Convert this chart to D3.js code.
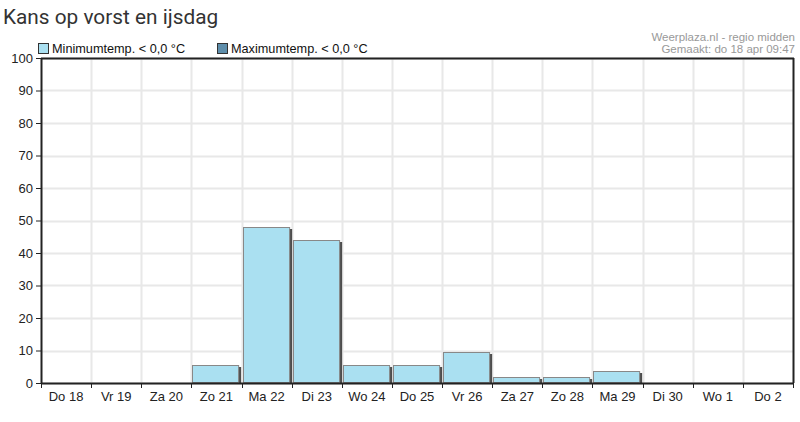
<!DOCTYPE html>
<html>
<head>
<meta charset="utf-8">
<script src="https://cdn.jsdelivr.net/npm/d3@7"></script>
<style>
  body { margin: 0; background: #fff; }
  svg { display: block; }
</style>
</head>
<body>
<svg id="chart"></svg>
<script>
// data
const days = ['Do 18', 'Vr 19', 'Za 20', 'Zo 21', 'Ma 22', 'Di 23', 'Wo 24', 'Do 25',
              'Vr 26', 'Za 27', 'Zo 28', 'Ma 29', 'Di 30', 'Wo 1', 'Do 2'];
const minTempChance = [0, 0, 0, 5.5, 48, 44, 5.5, 5.5, 9.5, 1.7, 1.7, 3.7, 0, 0, 0];
const maxTempChance = [0, 0, 0, 0, 0, 0, 0, 0, 0, 0, 0, 0, 0, 0, 0];
const yTicks = [0, 10, 20, 30, 40, 50, 60, 70, 80, 90, 100];
const legendLabels = ['Minimumtemp. < 0,0 °C', 'Maximumtemp. < 0,0 °C'];
const legendColors = ['#aae0f1', '#5e8eab'];

const width = 800, height = 422;
const margin = { top: 58, right: 7, bottom: 39, left: 41 };
const innerW = width - margin.left - margin.right;
const innerH = height - margin.top - margin.bottom;

const svg = d3.select('#chart').attr('width', width).attr('height', height)
    .style('font-family', '"Liberation Sans", Arial, sans-serif');

// title
svg.append('text')
    .attr('x', 3).attr('y', 24)
    .attr('fill', '#333')
    .style('font-family', 'Roboto, sans-serif')
    .style('font-size', '20.8px')
    .text('Kans op vorst en ijsdag');

// source text
const src = svg.append('text')
    .attr('text-anchor', 'end')
    .attr('fill', '#999')
    .style('font-size', '11.5px');
src.append('tspan').attr('x', 795).attr('y', 41).text('Weerplaza.nl - regio midden');
src.append('tspan').attr('x', 795).attr('y', 53).text('Gemaakt: do 18 apr 09:47');

// legend
const legend = svg.selectAll('.legend')
    .data(legendLabels)
    .enter().append('g')
    .attr('transform', (d, i) => `translate(${38 + i * 179}, 43)`);
legend.append('rect')
    .attr('x', 0.5).attr('y', 0.5).attr('width', 10).attr('height', 10)
    .attr('fill', (d, i) => legendColors[i])
    .attr('stroke', '#333');
legend.append('text')
    .attr('x', 14).attr('y', 10)
    .attr('fill', '#111')
    .style('font-size', '12.7px')
    .text(d => d);

const chart = svg.append('g').attr('transform', `translate(${margin.left}, ${margin.top})`);

const xScale = d3.scaleBand().domain(days).range([0, innerW]);
const yScale = d3.scaleLinear().domain([0, 100]).range([innerH, 0]);

// grid
chart.append('g').selectAll('line')
    .data(yTicks)
    .enter().append('line')
    .attr('x1', 0).attr('x2', innerW)
    .attr('y1', d => Math.round(yScale(d)) + 0.5).attr('y2', d => Math.round(yScale(d)) + 0.5)
    .attr('stroke', '#e8e8e8').attr('stroke-width', 2);
chart.append('g').selectAll('line')
    .data(days.slice(1))
    .enter().append('line')
    .attr('x1', d => Math.round(xScale(d)) + 0.5).attr('x2', d => Math.round(xScale(d)) + 0.5)
    .attr('y1', 0).attr('y2', innerH)
    .attr('stroke', '#e8e8e8').attr('stroke-width', 2);

// bars (with a dark shadow on the right side)
const barData = days.map((d, i) => ({ day: d, v: minTempChance[i] })).filter(d => d.v > 0);
chart.append('g').selectAll('rect')
    .data(barData)
    .enter().append('rect')
    .attr('x', d => Math.round(xScale(d.day)) + 3)
    .attr('y', d => Math.round(yScale(d.v)) + 2)
    .attr('width', xScale.bandwidth() - 3)
    .attr('height', d => innerH - Math.round(yScale(d.v)) - 2)
    .attr('fill', '#4d4d4d');
chart.append('g').selectAll('rect')
    .data(barData)
    .enter().append('rect')
    .attr('x', d => Math.round(xScale(d.day)) + 1.5)
    .attr('y', d => Math.round(yScale(d.v)) + 0.5)
    .attr('width', xScale.bandwidth() - 4)
    .attr('height', d => innerH - Math.round(yScale(d.v)) - 1)
    .attr('fill', legendColors[0])
    .attr('stroke', '#888');

// frame top and right
chart.append('line').attr('x1', 0).attr('x2', innerW + 1).attr('y1', 0.5).attr('y2', 0.5)
    .attr('stroke', '#222').attr('stroke-width', 2);
chart.append('line').attr('x1', innerW + 0.5).attr('x2', innerW + 0.5).attr('y1', 0).attr('y2', innerH)
    .attr('stroke', '#222').attr('stroke-width', 2);

// axes
const yAxis = d3.axisLeft(yScale).tickValues(yTicks).tickSize(5).tickSizeOuter(0).tickPadding(3);
const yG = chart.append('g').call(yAxis);
yG.select('.domain').attr('stroke', '#222').attr('stroke-width', 2);
yG.selectAll('.tick line').attr('stroke', '#222');
yG.selectAll('.tick text').attr('fill', '#222')
    .style('font-size', '13px').style('font-family', '"Liberation Sans", Arial, sans-serif');

const xAxis = d3.axisBottom(xScale).tickSize(0).tickPadding(9);
const xG = chart.append('g').attr('transform', `translate(0, ${innerH})`).call(xAxis);
xG.select('.domain').attr('stroke', '#222').attr('stroke-width', 2);
xG.selectAll('.tick text').attr('fill', '#222')
    .style('font-size', '13px').style('font-family', '"Liberation Sans", Arial, sans-serif');
// tick marks at category boundaries
xG.append('g').selectAll('line')
    .data(days.concat(['end']))
    .enter().append('line')
    .attr('x1', (d, i) => i < days.length ? Math.round(xScale(d)) + 0.5 : innerW + 0.5)
    .attr('x2', (d, i) => i < days.length ? Math.round(xScale(d)) + 0.5 : innerW + 0.5)
    .attr('y1', 0).attr('y2', 5)
    .attr('stroke', '#222');
</script>
</body>
</html>
